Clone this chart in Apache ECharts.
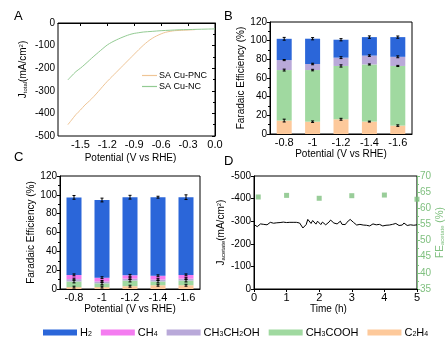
<!DOCTYPE html>
<html><head><meta charset="utf-8">
<script src="https://cdn.jsdelivr.net/npm/echarts@6/dist/echarts.min.js"></script>
<style>html,body{margin:0;padding:0;background:#fff}#c{width:446px;height:341px}</style>
</head><body><div id="c"></div>
<script>
// ---------- Panel A: LSV curves ----------
const pncV = [-1.64,-1.6,-1.55,-1.5,-1.45,-1.4,-1.35,-1.3,-1.25,-1.2,-1.15,-1.1,-1.05,-1.0,-0.95,-0.9,-0.85,-0.8,-0.75,-0.7,-0.65,-0.6,-0.55,-0.5,-0.45,-0.4,-0.35,-0.3,-0.25,-0.22];
const pncJ = [-450,-430,-405,-385,-363,-345,-325,-303,-280,-258,-238,-218,-198,-178,-158,-138,-118,-99,-82,-68,-57,-48,-41,-37,-34,-33,-32,-31,-30,-29];
const ncV = [-1.64,-1.6,-1.55,-1.5,-1.45,-1.4,-1.35,-1.3,-1.25,-1.2,-1.15,-1.1,-1.05,-1.0,-0.95,-0.9,-0.85,-0.8,-0.7,-0.6,-0.5,-0.4,-0.3,-0.2,-0.1,0.0];
const ncJ = [-252,-235,-215,-200,-183,-165,-147,-130,-113,-97,-85,-75,-66,-58,-51,-46,-43,-40,-37,-34,-32,-30,-29,-28,-27,-26];
const aXTicks = [-1.5,-1.2,-0.9,-0.6,-0.3,0.0];

// ---------- Panels B & C: Faradaic efficiency ----------
const potentials = ['-0.8','-1','-1.2','-1.4','-1.6'];
// B (SA Cu-PNC)
const bC2H4     = [14.4, 13.2, 15.8, 13.3, 9.0];
const bCH3COOH  = [54.1, 55.3, 57.1, 61.2, 63.9];
const bCH3CH2OH = [10.7, 6.5, 8.9, 9.5, 9.8];
const bCH4      = [0, 0, 0, 0, 0];
const bH2       = [22.8, 27.1, 19.2, 19.8, 21.1];
const bErrC2H4     = [1.5, 0.8, 1.0, 0.5, 0.8];
const bErrCH3COOH  = [1.0, 0.8, 1.2, 0.6, 0.6];
const bErrCH3CH2OH = [0.6, 0.8, 1.0, 0.8, 1.0];
const bErrCH4      = [0, 0, 0, 0, 0];
const bErrH2       = [1.5, 1.2, 1.2, 1.3, 1.2];
// C (SA Cu-NC)
const cC2H4     = [2.0, 2.0, 3.0, 4.0, 4.0];
const cCH3COOH  = [6.0, 4.0, 6.0, 4.0, 5.0];
const cCH3CH2OH = [2.5, 2.0, 2.0, 2.0, 2.0];
const cCH4      = [4.5, 4.0, 3.5, 4.0, 4.0];
const cH2       = [82.3, 82.5, 83.0, 83.5, 82.5];
const cErrC2H4     = [1.0, 1.0, 1.0, 1.0, 1.0];
const cErrCH3COOH  = [1.5, 1.5, 1.5, 1.5, 1.5];
const cErrCH3CH2OH = [1.0, 1.0, 1.0, 1.0, 1.0];
const cErrCH4      = [1.0, 1.0, 1.0, 1.0, 1.0];
const cErrH2       = [2.0, 2.0, 2.0, 1.0, 2.5];

// ---------- Panel D: stability ----------
const dTime = [0,0.05,0.1,0.15,0.2,0.25,0.3,0.35,0.4,0.45,0.5,0.55,0.6,0.65,0.7,0.75,0.8,0.85,0.9,0.95,1.0,1.05,1.1,1.15,1.2,1.25,1.3,1.35,1.4,1.45,1.5,1.55,1.6,1.65,1.7,1.75,1.8,1.85,1.9,1.95,2.0,2.05,2.1,2.15,2.2,2.25,2.3,2.35,2.4,2.45,2.5,2.55,2.6,2.65,2.7,2.75,2.8,2.85,2.9,2.95,3.0,3.05,3.1,3.15,3.2,3.25,3.3,3.35,3.4,3.45,3.5,3.55,3.6,3.65,3.7,3.75,3.8,3.85,3.9,3.95,4.0,4.05,4.1,4.15,4.2,4.25,4.3,4.35,4.4,4.45,4.5,4.55,4.6,4.65,4.7,4.75,4.8,4.85,4.9,4.95,5.0];
const dCurrent = [-285,-280,-276,-283,-288,-282,-286,-292,-284,-289,-295,-287,-291,-294,-293,-295,-294,-295,-296,-295,-294,-296,-295,-296,-295,-294,-295,-293,-292,-285,-270,-262,-285,-308,-300,-290,-303,-296,-287,-300,-293,-285,-296,-290,-284,-292,-296,-305,-300,-292,-298,-288,-290,-300,-286,-292,-285,-295,-302,-308,-303,-295,-290,-283,-278,-286,-280,-283,-289,-282,-285,-279,-284,-288,-282,-284,-280,-286,-283,-279,-285,-282,-287,-283,-280,-286,-284,-290,-283,-281,-287,-283,-292,-285,-281,-288,-284,-289,-282,-286,-284];
const feTime = [0.13, 1.0, 2.0, 3.0, 4.0, 5.0];
const feAcetate = [63.5, 64.0, 63.1, 63.9, 64.1, 62.8];

// ---------- styles ----------
const FONT = 'Liberation Sans';
const COL = {H2:'#2b66d9', CH4:'#f47cf0', CH3CH2OH:'#b9a9d9', CH3COOH:'#a0d9a0', C2H4:'#fdc99b'};
const SUB = {fontSize:7, fontFamily:FONT, color:'#000', verticalAlign:'bottom', padding:[4,0,0,0]};
const legendLabels = {H2:'H{s|2}', CH4:'CH{s|4}', CH3CH2OH:'CH{s|3}CH{s|2}OH', CH3COOH:'CH{s|3}COOH', C2H4:'C{s|2}H{s|4}'};

function zip(a,b){return a.map((v,i)=>[v,b[i]]);}
function axisLineStyle(c){return {show:true, lineStyle:{color:c||'#000', width:1}};}
function lbl(extra){return Object.assign({color:'#000', fontSize:10, fontFamily:FONT, margin:3}, extra||{});}

function stackSeries(prefix, xi, yi, arrs){
  const order = ['C2H4','CH3COOH','CH3CH2OH','CH4','H2'];
  return order.map(k=>({
    name:k, type:'bar', stack:prefix, xAxisIndex:xi, yAxisIndex:yi, barWidth:15,
    itemStyle:{color:COL[k]}, data:arrs[k], emphasis:{disabled:true}
  }));
}
function errData(arrs, errs){
  const order = ['C2H4','CH3COOH','CH3CH2OH','CH4','H2'];
  const out = [];
  for (let i=0;i<potentials.length;i++){
    let cum = 0;
    order.forEach(k=>{ cum += arrs[k][i]; if (errs[k][i]>0) out.push([i, cum, errs[k][i]]); });
  }
  return out;
}
function errSeries(xi, yi, data){
  return {type:'custom', xAxisIndex:xi, yAxisIndex:yi, z:10, silent:true, data:data,
    encode:{x:0, y:1},
    renderItem:function(params, api){
      const i = api.value(0), c = api.value(1), e = api.value(2);
      const p1 = api.coord([i, c-e]), p2 = api.coord([i, c+e]);
      const w = 1.5, st = {stroke:'#000', lineWidth:1};
      return {type:'group', children:[
        {type:'line', shape:{x1:p1[0], y1:p1[1], x2:p2[0], y2:p2[1]}, style:st},
        {type:'line', shape:{x1:p1[0]-w, y1:p1[1], x2:p1[0]+w, y2:p1[1]}, style:st},
        {type:'line', shape:{x1:p2[0]-w, y1:p2[1], x2:p2[0]+w, y2:p2[1]}, style:st}
      ]};
    }};
}

const bArr = {C2H4:bC2H4, CH3COOH:bCH3COOH, CH3CH2OH:bCH3CH2OH, CH4:bCH4, H2:bH2};
const bErr = {C2H4:bErrC2H4, CH3COOH:bErrCH3COOH, CH3CH2OH:bErrCH3CH2OH, CH4:bErrCH4, H2:bErrH2};
const cArr = {C2H4:cC2H4, CH3COOH:cCH3COOH, CH3CH2OH:cCH3CH2OH, CH4:cCH4, H2:cH2};
const cErr = {C2H4:cErrC2H4, CH3COOH:cErrCH3COOH, CH3CH2OH:cErrCH3CH2OH, CH4:cErrCH4, H2:cErrH2};

const feYAxis = (gi, gap) => ({
  type:'value', gridIndex:gi, min:0, max:120, interval:20,
  axisLine:axisLineStyle(), axisTick:{show:true, inside:false, length:3},
  minorTick:{show:true, splitNumber:2, length:2, lineStyle:{color:'#000'}},
  splitLine:{show:false}, axisLabel:lbl(),
  name:'Faradaic Efficiency (%)', nameLocation:'middle', nameGap:gap, nameRotate:90,
  nameTextStyle:{fontSize:10, fontFamily:FONT, color:'#000'}
});
const potXAxis = (gi, gap) => ({
  type:'category', gridIndex:gi, data:potentials, axisLine:axisLineStyle(),
  axisTick:{show:false}, axisLabel:lbl({fontSize:11}),
  name:'Potential (V vs RHE)', nameLocation:'middle', nameGap:gap,
  nameTextStyle:{fontSize:10, fontFamily:FONT, color:'#000'}
});

const chart = echarts.init(document.getElementById('c'), null, {renderer:'canvas'});
chart.setOption({
  animation:false,
  backgroundColor:'#fff',
  textStyle:{fontFamily:FONT},
  grid:[
    {left:58, top:23, width:157, height:113, show:true, borderColor:'#000', borderWidth:1},
    {left:270, top:22, width:142, height:112, show:true, borderColor:'#000', borderWidth:1},
    {left:60, top:176, width:140, height:113, show:true, borderColor:'#000', borderWidth:1},
    {left:254, top:176, width:163, height:113, show:true, borderColor:'#000', borderWidth:1}
  ],
  xAxis:[
    {type:'value', gridIndex:0, min:-1.75, max:0, axisLine:axisLineStyle(),
     axisTick:{show:true, length:3, customValues:aXTicks}, splitLine:{show:false},
     axisLabel:lbl({fontSize:11, customValues:aXTicks, formatter:v=>v.toFixed(1)}),
     name:'Potential (V vs RHE)', nameLocation:'middle', nameGap:17,
     nameTextStyle:{fontSize:10, fontFamily:FONT, color:'#000', padding:[0,12,0,0]}},
    potXAxis(1, 14),
    potXAxis(2, 13),
    {type:'value', gridIndex:3, min:0, max:5, interval:1, axisLine:axisLineStyle(),
     axisTick:{show:true, length:3}, splitLine:{show:false}, axisLabel:lbl({fontSize:11}),
     name:'Time (h)', nameLocation:'middle', nameGap:12,
     nameTextStyle:{fontSize:10, fontFamily:FONT, color:'#000', padding:[0,14,0,0]}}
  ],
  yAxis:[
    {type:'value', gridIndex:0, min:-500, max:0, interval:100, axisLine:axisLineStyle(),
     axisTick:{show:true, length:3}, minorTick:{show:true, splitNumber:2, length:2, lineStyle:{color:'#000'}},
     splitLine:{show:false}, axisLabel:lbl(),
     name:'J{s|total}(mA/cm{p|2})', nameLocation:'middle', nameGap:30, nameRotate:90,
     nameTextStyle:{fontSize:10, fontFamily:FONT, color:'#000', padding:[0,0,0,20],
       rich:{s:{fontSize:6, fontFamily:FONT, color:'#000', verticalAlign:'bottom', padding:[4,0,0,0]},
             p:{fontSize:6, fontFamily:FONT, color:'#000', verticalAlign:'top', padding:[0,0,4,0]}}}},
    feYAxis(1, 22),
    feYAxis(2, 21),
    {type:'value', gridIndex:3, min:-500, max:0, interval:100, inverse:true, axisLine:axisLineStyle(),
     axisTick:{show:true, length:3}, splitLine:{show:false}, axisLabel:lbl(),
     name:'J{s|acetate}(mA/cm{p|2})', nameLocation:'middle', nameGap:28, nameRotate:90,
     nameTextStyle:{fontSize:10, fontFamily:FONT, color:'#000',
       rich:{s:{fontSize:6, fontFamily:FONT, color:'#000', verticalAlign:'bottom', padding:[4,0,0,0]},
             p:{fontSize:6, fontFamily:FONT, color:'#000', verticalAlign:'top', padding:[0,0,4,0]}}}},
    {type:'value', gridIndex:3, position:'right', min:35, max:70, interval:5,
     axisLine:axisLineStyle('#80c080'), axisTick:{show:true, length:3, lineStyle:{color:'#80c080'}},
     minorTick:{show:true, splitNumber:2, length:2, lineStyle:{color:'#80c080'}},
     splitLine:{show:false}, axisLabel:lbl({color:'#80c080'}),
     name:'FE{s|acetate} (%)', nameLocation:'middle', nameGap:12, nameRotate:90,
     nameTextStyle:{fontSize:10, fontFamily:FONT, color:'#80c080', padding:[0,0,0,0],
       rich:{s:{fontSize:6, fontFamily:FONT, color:'#80c080', verticalAlign:'bottom', padding:[4,0,0,0]}}}}
  ],
  legend:[
    {data:['H2','CH4','CH3CH2OH','CH3COOH','C2H4'], left:38, top:322, width:420, icon:'rect',
     itemWidth:34, itemHeight:6, itemGap:9, selectedMode:false,
     formatter:n=>legendLabels[n],
     textStyle:{fontSize:11, fontFamily:FONT, color:'#000', padding:[0,0,0,-2], rich:{s:SUB}}},
    {data:['SA Cu-PNC','SA Cu-NC'], orient:'vertical', left:137, top:66, icon:'rect',
     itemWidth:15, itemHeight:1.2, itemGap:2, selectedMode:false,
     textStyle:{fontSize:9, fontFamily:FONT, color:'#000', padding:[0,0,0,-3]}}
  ],
  graphic:[
    {type:'text', left:14, top:10, style:{text:'A', fontSize:13, fontFamily:FONT, fill:'#000'}},
    {type:'text', left:224, top:10, style:{text:'B', fontSize:13, fontFamily:FONT, fill:'#000'}},
    {type:'text', left:14, top:151, style:{text:'C', fontSize:13, fontFamily:FONT, fill:'#000'}},
    {type:'text', left:224, top:155, style:{text:'D', fontSize:13, fontFamily:FONT, fill:'#000'}}
  ],
  series:[
    {name:'SA Cu-PNC', type:'line', xAxisIndex:0, yAxisIndex:0, data:zip(pncV,pncJ), showSymbol:false,
     smooth:0.3, lineStyle:{color:'#efc596', width:1}, itemStyle:{color:'#efc596'}},
    {name:'SA Cu-NC', type:'line', xAxisIndex:0, yAxisIndex:0, data:zip(ncV,ncJ), showSymbol:false,
     smooth:0.3, lineStyle:{color:'#93cb93', width:1}, itemStyle:{color:'#93cb93'}},
    ...stackSeries('B', 1, 1, bArr),
    errSeries(1, 1, errData(bArr, bErr)),
    ...stackSeries('C', 2, 2, cArr),
    errSeries(2, 2, errData(cArr, cErr)),
    {name:'J', type:'line', xAxisIndex:3, yAxisIndex:3, data:zip(dTime,dCurrent), showSymbol:false,
     lineStyle:{color:'#000', width:1}},
    {name:'FE', type:'scatter', xAxisIndex:3, yAxisIndex:4, data:zip(feTime,feAcetate), symbol:'rect',
     symbolSize:5, itemStyle:{color:'#80c080'}}
  ]
});
</script></body></html>
